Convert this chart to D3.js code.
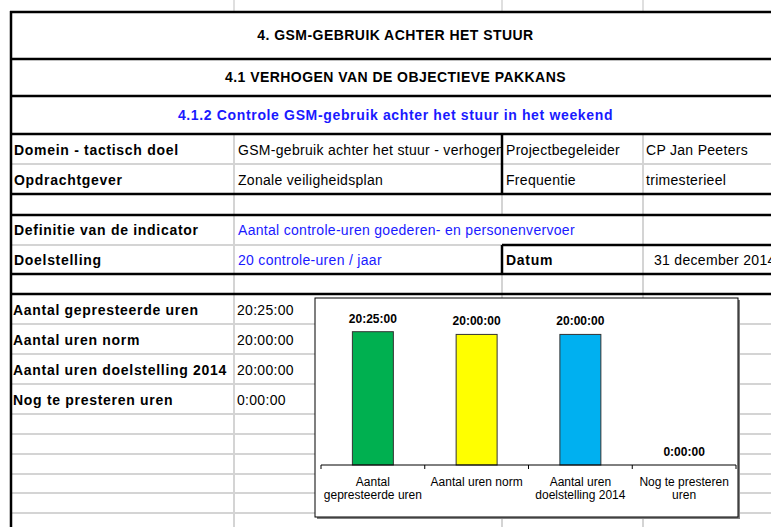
<!DOCTYPE html>
<html>
<head>
<meta charset="utf-8">
<script src="https://d3js.org/d3.v7.min.js"></script>
<style>
  body { margin: 0; background: #fff; }
  text { font-family: "Liberation Sans", Arial, sans-serif; }
</style>
</head>
<body>
<div id="vis"></div>

<script>
  // chart data
  var categories = ['Aantal gepresteerde uren', 'Aantal uren norm', 'Aantal uren doelstelling 2014', 'Nog te presteren uren'];
  var catLines = [['Aantal', 'gepresteerde uren'], ['Aantal uren norm'], ['Aantal uren', 'doelstelling 2014'], ['Nog te presteren', 'uren']];
  var hours = [20 + 25 / 60, 20, 20, 0];
  var colors = ['#00b050', '#ffff00', '#00b0f0', '#ffffff'];

  // sheet texts
  var titles = ['4. GSM-GEBRUIK ACHTER HET STUUR', '4.1 VERHOGEN VAN DE OBJECTIEVE PAKKANS', '4.1.2 Controle GSM-gebruik achter het stuur in het weekend'];
  var infoLabels = ['Domein - tactisch doel', 'Opdrachtgever', '', 'Definitie van de indicator', 'Doelstelling'];
  var infoValues = ['GSM-gebruik achter het stuur - verhogen', 'Zonale veiligheidsplan', '', 'Aantal controle-uren goederen- en personenvervoer', '20 controle-uren / jaar'];
  var sideLabels = ['Projectbegeleider', 'Frequentie', '', '', 'Datum'];
  var sideValues = ['CP Jan Peeters', 'trimesterieel', '', '', '31 december 2014'];

  var W = 771, H = 527;
  var svg = d3.select('#vis').append('svg')
    .attr('width', W).attr('height', H);

  function fmt(h) {
    var s = Math.round(h * 3600);
    var hh = Math.floor(s / 3600), mm = Math.floor((s % 3600) / 60), ss = s % 60;
    return hh + ':' + d3.format('02d')(mm) + ':' + d3.format('02d')(ss);
  }

  var grey = '#d4d4d4';
  var colA = 11, colB = 234, colC = 502, colD = 643, right = 780;

  function hline(y, x1, x2, c, w) {
    svg.append('line').attr('x1', x1).attr('x2', x2).attr('y1', y).attr('y2', y)
      .attr('stroke', c).attr('stroke-width', w);
  }
  function vline(x, y1, y2, c, w) {
    svg.append('line').attr('x1', x).attr('x2', x).attr('y1', y1).attr('y2', y2)
      .attr('stroke', c).attr('stroke-width', w);
  }
  function label(x, y, t, bold, color) {
    return svg.append('text').attr('x', x).attr('y', y)
      .attr('font-size', '14px')
      .attr('font-weight', bold ? 'bold' : 'normal')
      .attr('letter-spacing', bold ? '0.7px' : '0.3px')
      .attr('fill', color || '#000')
      .text(t);
  }

  // grey grid
  [colB, colC, colD].forEach(function(x) { vline(x, 0, 12, grey, 1.5); });
  [164, 324, 354, 384, 414, 434, 454, 474, 493, 513].forEach(function(y) { hline(y, colA, W, grey, 2); });
  hline(245, colA, colC, grey, 2);
  vline(colB, 134, H, grey, 2);
  vline(colD, 134, H, grey, 2);
  vline(colC, 194, 215, grey, 2);
  vline(colC, 274, H, grey, 2);

  // thick borders
  [12, 59, 96, 134, 194, 215, 274, 294].forEach(function(y) { hline(y, colA - 1, W, '#000', 2.5); });
  hline(245, colC, W, '#000', 2.5);
  vline(colA, 11, H, '#000', 2.5);
  vline(colC, 134, 194, '#000', 2.5);
  vline(colC, 245, 274, '#000', 2.5);

  // titles
  var titleY = [40, 82, 119.5];
  titles.forEach(function(t, i) {
    svg.append('text').attr('x', (colA + right) / 2).attr('y', titleY[i])
      .attr('text-anchor', 'middle').attr('font-size', '14px').attr('font-weight', 'bold')
      .attr('letter-spacing', i === 2 ? '0.65px' : '0.45px')
      .attr('fill', i === 2 ? '#1a1aff' : '#000').text(t);
  });

  // info block
  var infoY = [155, 185, 0, 235, 265];
  svg.append('clipPath').attr('id', 'c1').append('rect')
    .attr('x', colB).attr('y', 134).attr('width', colC - colB - 1).attr('height', 60);
  infoLabels.forEach(function(t, i) {
    if (t) label(14, infoY[i], t, true);
  });
  infoValues.forEach(function(t, i) {
    if (!t) return;
    label(238, infoY[i], t, false, i >= 3 ? '#1a1aff' : '#000')
      .attr('clip-path', i < 2 ? 'url(#c1)' : null);
  });
  sideLabels.forEach(function(t, i) {
    if (t) label(506, infoY[i], t, i === 4);
  });
  sideValues.forEach(function(t, i) {
    if (t) label(i === 4 ? 654 : 646, infoY[i], t, false);
  });

  // hours rows
  var rowY = [315, 345, 375, 405];
  categories.forEach(function(c, i) {
    label(13, rowY[i], c, true);
    label(237, rowY[i], fmt(hours[i]), false);
  });

  // embedded chart
  var box = { x: 315, y: 298, w: 423, h: 219 };
  svg.append('rect').attr('x', box.x + 2).attr('y', box.y + 2)
    .attr('width', box.w).attr('height', box.h).attr('fill', '#808080');
  svg.append('rect').attr('x', box.x).attr('y', box.y)
    .attr('width', box.w).attr('height', box.h)
    .attr('fill', '#fff').attr('stroke', '#000').attr('stroke-width', 1);

  var x = d3.scaleBand().domain(categories).range([321, 736]).padding(0);
  var y = d3.scaleLinear().domain([0, 24]).range([465, 308.3]);
  var barW = x.bandwidth() * 0.395;

  var g = svg.append('g');
  g.selectAll('rect.bar').data(categories).enter().append('rect')
    .attr('class', 'bar')
    .attr('x', function(d) { return x(d) + (x.bandwidth() - barW) / 2; })
    .attr('y', function(d, i) { return y(hours[i]); })
    .attr('width', barW)
    .attr('height', function(d, i) { return y(0) - y(hours[i]); })
    .attr('fill', function(d, i) { return colors[i]; })
    .attr('stroke', '#333').attr('stroke-width', 1)
    .style('display', function(d, i) { return hours[i] > 0 ? null : 'none'; });

  g.selectAll('text.val').data(categories).enter().append('text')
    .attr('class', 'val')
    .attr('x', function(d) { return x(d) + x.bandwidth() / 2; })
    .attr('y', function(d, i) { return y(hours[i]) - 9; })
    .attr('text-anchor', 'middle').attr('font-size', '12px').attr('font-weight', 'bold')
    .text(function(d, i) { return fmt(hours[i]); });

  // axis
  g.append('line').attr('x1', 321).attr('x2', 736).attr('y1', y(0)).attr('y2', y(0))
    .attr('stroke', '#000').attr('stroke-width', 1);
  var tickX = categories.map(function(d) { return x(d); }).concat([x.range()[1]]);
  g.selectAll('line.tick').data(tickX).enter().append('line')
    .attr('class', 'tick')
    .attr('x1', function(d) { return d; }).attr('x2', function(d) { return d; })
    .attr('y1', y(0)).attr('y2', y(0) + 4)
    .attr('stroke', '#000');

  categories.forEach(function(c, i) {
    var t = g.append('text').attr('text-anchor', 'middle').attr('font-size', '12px');
    catLines[i].forEach(function(l, j) {
      t.append('tspan').attr('x', x(c) + x.bandwidth() / 2).attr('y', 486 + j * 12.5).text(l);
    });
  });
</script>
</body>
</html>
